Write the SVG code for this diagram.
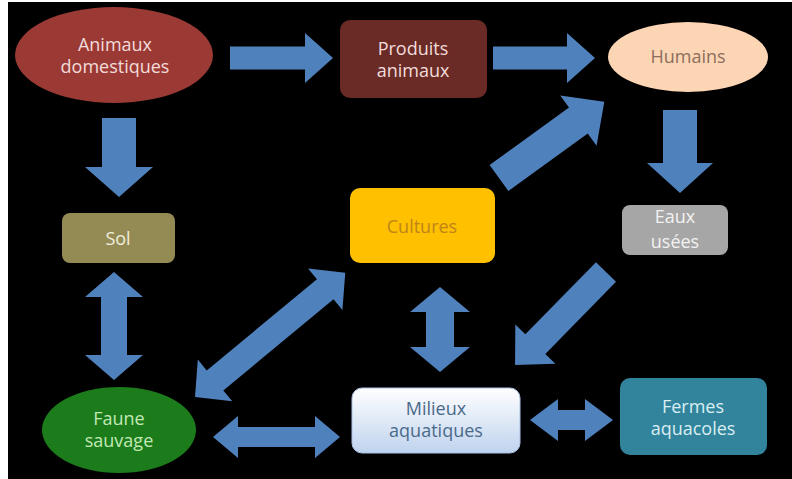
<svg xmlns="http://www.w3.org/2000/svg" width="792" height="479" viewBox="0 0 792 479">
  <defs>
    <linearGradient id="gMil" x1="0" y1="0" x2="0" y2="1">
      <stop offset="0" stop-color="#FFFFFF"/>
      <stop offset="1" stop-color="#BFD3EE"/>
    </linearGradient>
    <style>
      text { font-family: "Open Sans", "Liberation Sans", sans-serif; font-size: 18px; text-anchor: middle; }
      .arrow { fill: #4F81BD; }
    </style>
  </defs>
  <rect x="0" y="0" width="792" height="479" fill="#FFFFFF"/>
  <rect x="8" y="2" width="784" height="477" fill="#000000"/>

  <g id="connectors">
    <path class="arrow" d="M230,46.5 H305 V33 L333,58 L305,83 V69.5 H230 Z"/>
    <path class="arrow" d="M493,46.5 H567 V33 L595,58 L567,83 V69.5 H493 Z"/>
    <path class="arrow" d="M102,118 H136 V167 H153 L119,197 L85,167 H102 Z"/>
    <path class="arrow" d="M663,110 H697 V163 H713 L680,193 L647,163 H663 Z"/>
    <path class="arrow" transform="translate(499,178) rotate(-35.9)" d="M0,-16 H98 V-31 L130,0 L98,31 V16 H0 Z"/>
    <path class="arrow" transform="translate(606,272) rotate(134.4)" d="M0,-14 H101 V-28 L130,0 L101,28 V14 H0 Z"/>
    <path class="arrow" transform="translate(195,397) rotate(-39.6)" d="M0,0 L26,-27 V-13 H169 V-27 L195,0 L169,27 V13 H26 V27 Z"/>
    <path class="arrow" d="M114,272 L143,297 H127 V355 H143 L114,380 L85,355 H101 V297 H85 Z"/>
    <path class="arrow" d="M440,287 L470,312 H454 V347 H470 L440,372 L410,347 H426 V312 H410 Z"/>
    <path class="arrow" d="M213,437 L238,416 V427 H315 V416 L340,437 L315,458 V447 H238 V458 Z"/>
    <path class="arrow" d="M530,420 L558,399 V410 H585 V399 L613,420 L585,441 V430 H558 V441 Z"/>
  </g>

  <g id="animaux-domestiques">
    <ellipse cx="114" cy="55" rx="99" ry="48" fill="#9B3A35"/>
    <text x="115" y="51" fill="#F2DCDB">Animaux</text>
    <text x="115" y="73" fill="#F2DCDB">domestiques</text>
  </g>
  <g id="produits-animaux">
    <rect x="340" y="20" width="147" height="78" rx="10" fill="#6A2B27"/>
    <text x="413" y="55" fill="#F2DCDB">Produits</text>
    <text x="413" y="77" fill="#F2DCDB">animaux</text>
  </g>
  <g id="humains">
    <ellipse cx="688" cy="57" rx="80" ry="35" fill="#FCD5B5"/>
    <text x="688" y="63" fill="#8C6E5C">Humains</text>
  </g>
  <g id="eaux-usees">
    <rect x="622" y="205" width="106" height="50" rx="8" fill="#A6A6A6"/>
    <text x="675" y="223" fill="#F2F2F2">Eaux</text>
    <text x="675" y="248" fill="#F2F2F2">usées</text>
  </g>
  <g id="sol">
    <rect x="62" y="213" width="113" height="50" rx="8" fill="#948A54"/>
    <text x="118" y="245" fill="#F0EEDD">Sol</text>
  </g>
  <g id="cultures">
    <rect x="350" y="188" width="145" height="75" rx="10" fill="#FFC000"/>
    <text x="422" y="233" fill="#C0841A">Cultures</text>
  </g>
  <g id="faune-sauvage">
    <ellipse cx="119" cy="430" rx="77" ry="43" fill="#1C7C1C"/>
    <text x="119" y="425" fill="#C2E8B5">Faune</text>
    <text x="119" y="447" fill="#C2E8B5">sauvage</text>
  </g>
  <g id="milieux-aquatiques">
    <rect x="352" y="388" width="168" height="65" rx="10" fill="url(#gMil)" stroke="#A9C1E4" stroke-width="1"/>
    <text x="436" y="415" fill="#4A6A8A">Milieux</text>
    <text x="436" y="437" fill="#4A6A8A">aquatiques</text>
  </g>
  <g id="fermes-aquacoles">
    <rect x="620" y="378" width="147" height="77" rx="10" fill="#31849B"/>
    <text x="693" y="413" fill="#DAEEF3">Fermes</text>
    <text x="693" y="435" fill="#DAEEF3">aquacoles</text>
  </g>
</svg>
